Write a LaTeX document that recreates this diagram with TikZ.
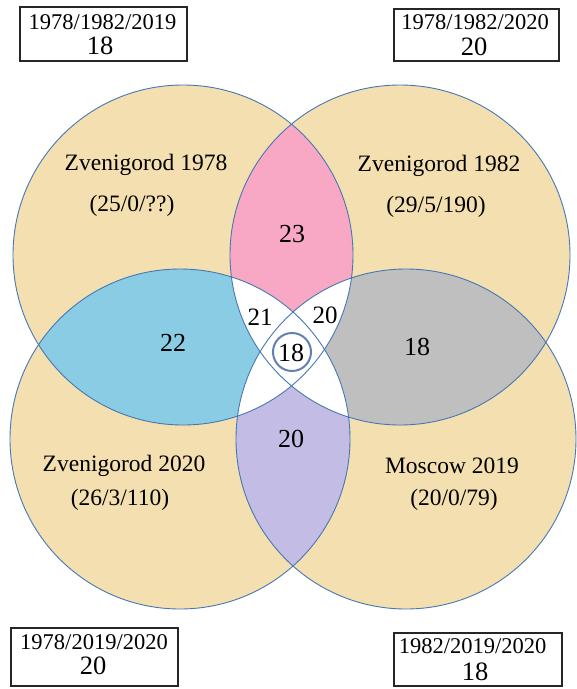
\documentclass[tikz,border=0pt]{standalone}
\usepackage{fontspec}
\setmainfont{Liberation Serif}
\definecolor{tanc}{RGB}{243,223,175}
\definecolor{pinkc}{RGB}{248,168,196}
\definecolor{bluec}{RGB}{137,204,228}
\definecolor{grayc}{RGB}{191,191,191}
\definecolor{purplec}{RGB}{195,188,228}
\definecolor{edgec}{RGB}{70,120,180}
\definecolor{ringc}{RGB}{100,128,178}
\begin{document}
\begin{tikzpicture}[x=1pt,y=-1pt,
  lab/.style={font=\fontsize{23.5}{26}\selectfont, inner sep=0pt},
  num/.style={font=\fontsize{26}{28}\selectfont, inner sep=0pt},
  snum/.style={font=\fontsize{25}{28}\selectfont, inner sep=0pt},
  boxtxt/.style={font=\fontsize{22.5}{26}\selectfont, inner sep=0pt},
  boxnum/.style={font=\fontsize{26.5}{28}\selectfont, inner sep=0pt},
  frame/.style={draw=black!85, line width=1.4pt},
  edge/.style={draw=edgec, line width=0.9pt}]
\useasboundingbox (0,0) rectangle (577,689);
% base fill
\fill[tanc] (183,255) circle (170pt) (400,255) circle (170pt)
  (180,439) circle (170pt) (406,439) circle (170pt);
% pair intersections
\begin{scope}\clip (183,255) circle (170pt); \fill[pinkc] (400,255) circle (170pt);\end{scope}
\begin{scope}\clip (183,255) circle (170pt); \fill[bluec] (180,439) circle (170pt);\end{scope}
\begin{scope}\clip (400,255) circle (170pt); \fill[grayc] (406,439) circle (170pt);\end{scope}
\begin{scope}\clip (180,439) circle (170pt); \fill[purplec] (406,439) circle (170pt);\end{scope}
% central white
\begin{scope}\clip (183,255) circle (170pt); \fill[white] (406,439) circle (170pt);\end{scope}
\begin{scope}\clip (400,255) circle (170pt); \fill[white] (180,439) circle (170pt);\end{scope}
% outlines
\draw[edge] (183,255) circle (170pt);
\draw[edge] (400,255) circle (170pt);
\draw[edge] (180,439) circle (170pt);
\draw[edge] (406,439) circle (170pt);
\draw[draw=ringc, line width=2pt] (292,352) circle (19pt);
% labels
\node[lab] (n78) at (146,165) {Zvenigorod 1978};
\node[lab] (s78) at (132,206) {(25/0/??)};
\node[lab] (n82) at (439,166) {Zvenigorod 1982};
\node[lab] (s82) at (436,207) {(29/5/190)};
\node[lab] (n20) at (124,466) {Zvenigorod 2020};
\node[lab] (s20) at (120,500) {(26/3/110)};
\node[lab] (n19) at (452,466) {Moscow 2019};
\node[lab] (s19) at (454,500) {(20/0/79)};
\node[num] (v23) at (292,234) {23};
\node[num] (v22) at (173,343) {22};
\node[num] (v18b) at (417,347) {18};
\node[num] (v20p) at (291,439) {20};
\node[snum] (v21) at (260,317) {21};
\node[snum] (v20) at (325,315) {20};
\node[num] (v18) at (291,353) {18};
% boxes
\draw[frame] (20,7) rectangle (187,61);
\node[boxtxt] (b1t) at (102.5,22) {1978/1982/2019};
\node[boxnum] (b1n) at (100,45.5) {18};
\draw[frame] (394,9) rectangle (559,61);
\node[boxtxt] (b2t) at (475,22.5) {1978/1982/2020};
\node[boxnum] (b2n) at (474,47) {20};
\draw[frame] (11,628) rectangle (178,686);
\node[boxtxt] (b3t) at (94,642) {1978/2019/2020};
\node[boxnum] (b3n) at (93,666) {20};
\draw[frame] (394,633) rectangle (562,686);
\node[boxtxt] (b4t) at (472.5,646.5) {1982/2019/2020};
\node[boxnum] (b4n) at (475,671.5) {18};
\end{tikzpicture}
\end{document}
